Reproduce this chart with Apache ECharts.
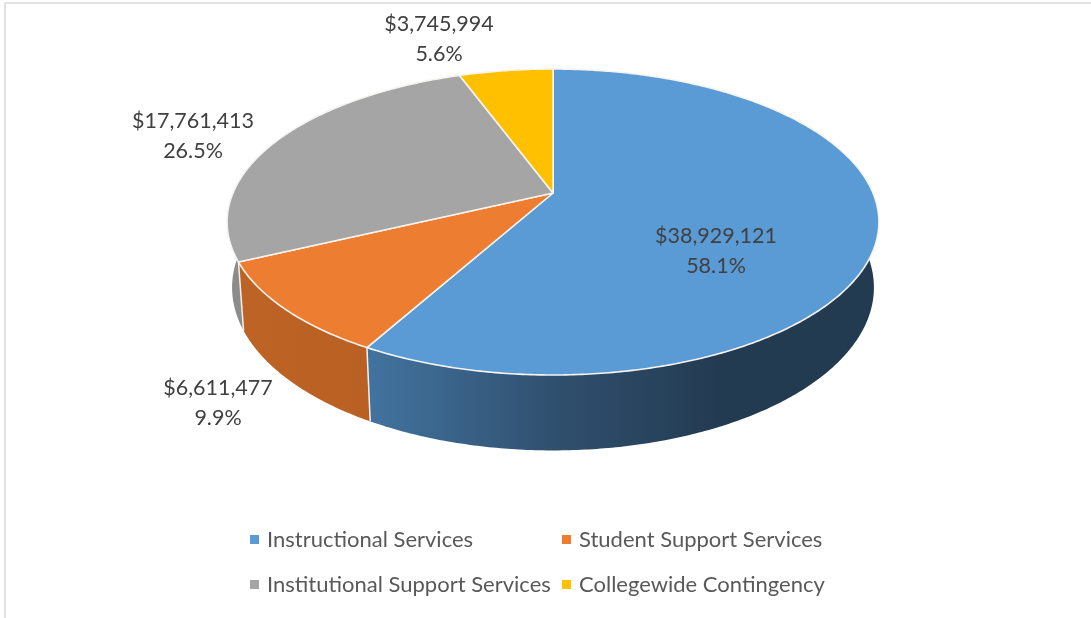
<!DOCTYPE html>
<html>
<head>
<meta charset="utf-8">
<style>html,body{margin:0;padding:0;background:#fff}#c{width:1091px;height:618px}</style>
<script src="https://cdn.jsdelivr.net/npm/echarts@6/dist/echarts.min.js"></script>
</head>
<body>
<div id="c"></div>
<script>
const categories = ['Instructional Services', 'Student Support Services', 'Institutional Support Services', 'Collegewide Contingency'];
const amounts = [38929121, 6611477, 17761413, 3745994];
const amountLabels = ['$38,929,121', '$6,611,477', '$17,761,413', '$3,745,994'];
const percentLabels = ['58.1%', '9.9%', '26.5%', '5.6%'];
const colors = ['#5b9bd5', '#ed7d31', '#a5a5a5', '#ffc000'];

// layout only
const labelAnchors = [[716, 251], [218, 403], [193, 136], [439, 39]];
const sideShades = [
  [[368, '#42739f'], [553, '#30506f'], [720, '#233b51'], [880, '#233b51']],
  [[240, '#bd6325'], [373, '#b96024']],
  [[225, '#8c8c8c'], [250, '#8c8c8c']],
  [[460, '#99770a'], [553, '#99770a']]
];
const FONT = 'Lato';
const APEX = [553, 193], A = 320, B = 147.5, K = 0.1895, DEPTH_Y = 65, DEPTH_W = 0.015;
const total = amounts.reduce((s, v) => s + v, 0);

function project(theta, lower) {
  const u = Math.sin(theta), v = Math.cos(theta);
  const w = 1 + K * v + (lower ? DEPTH_W : 0);
  return [APEX[0] + A * u / w, APEX[1] + (-B * v + (lower ? DEPTH_Y : 0)) / w];
}
function rim(t0, t1, lower) {
  const n = Math.max(6, Math.ceil((t1 - t0) / 0.01)), pts = [];
  for (let i = 0; i <= n; i++) pts.push(project(t0 + (t1 - t0) * i / n, lower));
  return pts;
}
function sideFill(i) {
  const s = sideShades[i], x0 = s[0][0], x1 = s[s.length - 1][0];
  return new echarts.graphic.LinearGradient(x0, 0, x1, 0,
    s.map(p => ({ offset: (p[0] - x0) / (x1 - x0), color: p[1] })), true);
}

const series = categories.map((name, i) => ({
  type: 'custom',
  name,
  coordinateSystem: 'none',
  silent: true,
  animation: false,
  itemStyle: { color: colors[i] },
  data: [[amounts[i]]],
  renderItem: function (params, api) {
    const before = amounts.slice(0, i).reduce((s, v) => s + v, 0);
    const t0 = before / total * Math.PI * 2;
    const t1 = (before + api.value(0)) / total * Math.PI * 2;
    const upper = rim(t0, t1, false), lowerPts = rim(t0, t1, true);
    return {
      type: 'group',
      children: [
        { type: 'polygon', z2: 1, shape: { points: upper.concat(lowerPts.slice().reverse()) },
          style: { fill: sideFill(i), stroke: null } },
        { type: 'line', z2: 2, shape: { x1: upper[0][0], y1: upper[0][1], x2: lowerPts[0][0], y2: lowerPts[0][1] },
          style: { stroke: '#f4f1ec', lineWidth: 1.5 } },
        { type: 'polygon', z2: 3, shape: { points: [APEX].concat(upper) },
          style: { fill: colors[i], stroke: '#f6f4f0', lineWidth: 1.6, lineJoin: 'round' } },
        { type: 'text', z2: 5, style: {
            x: labelAnchors[i][0], y: labelAnchors[i][1],
            text: amountLabels[i] + '\n' + percentLabels[i],
            align: 'center', verticalAlign: 'middle',
            fontFamily: FONT, fontSize: 21.5, lineHeight: 30, fill: '#404040' } }
      ]
    };
  }
}));

const legendBase = {
  orient: 'vertical', icon: 'rect', itemWidth: 9, itemHeight: 9, itemGap: 20,
  selectedMode: false,
  textStyle: { fontFamily: FONT, fontSize: 22, color: '#595959', lineHeight: 25, padding: [0, 0, 0, 3] }
};
const chart = echarts.init(document.getElementById('c'), null, { renderer: 'canvas' });
const canvasEl = document.querySelector('#c canvas');
if (canvasEl) canvasEl.getContext('2d').textRendering = 'optimizeSpeed';
chart.setOption({
  backgroundColor: '#ffffff',
  animation: false,
  legend: [
    Object.assign({}, legendBase, { left: 245, top: 522, data: [categories[0], categories[2]] }),
    Object.assign({}, legendBase, { left: 557, top: 522, data: [categories[1], categories[3]] })
  ],
  graphic: [
    { type: 'line', silent: true, shape: { x1: 4, y1: 3, x2: 1091, y2: 3 }, style: { stroke: '#e2e2e2', lineWidth: 2 } },
    { type: 'line', silent: true, shape: { x1: 5, y1: 3, x2: 5, y2: 618 }, style: { stroke: '#e2e2e2', lineWidth: 2 } }
  ],
  series
});
</script>
</body>
</html>
